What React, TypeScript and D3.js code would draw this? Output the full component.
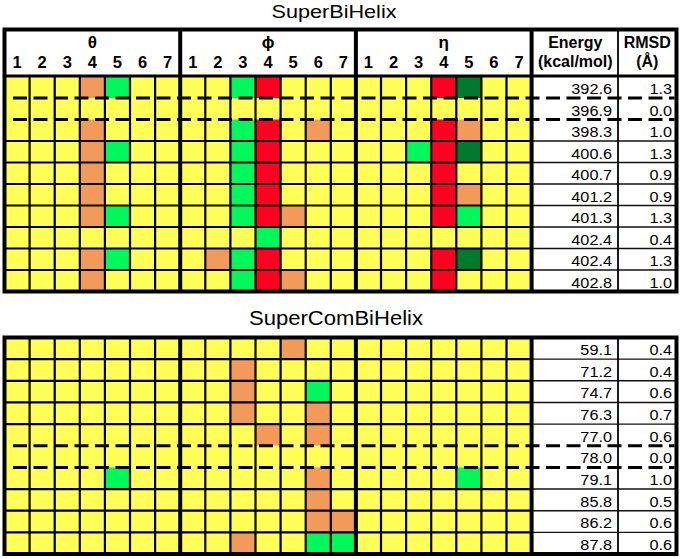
import React from "react";
import * as d3 from "d3";

const groups = ["θ", "ϕ", "η"];
const colLabels = ["1", "2", "3", "4", "5", "6", "7"];

// Cell states: Y yellow, O orange, G green, R red, D dark green
const superBiHelixCells = [
  "YYYOGYY" + "YYGRYYY" + "YYYRDYY",
  "YYYYYYY" + "YYYYYYY" + "YYYYYYY",
  "YYYOYYY" + "YYGRYOY" + "YYYROYY",
  "YYYOGYY" + "YYGRYYY" + "YYGRDYY",
  "YYYOYYY" + "YYGRYYY" + "YYYRYYY",
  "YYYOYYY" + "YYGRYYY" + "YYYROYY",
  "YYYOGYY" + "YYGROYY" + "YYYRGYY",
  "YYYYYYY" + "YYYGYYY" + "YYYYYYY",
  "YYYOGYY" + "YOGRYYY" + "YYYRDYY",
  "YYYOYYY" + "YYGROYY" + "YYYRYYY",
];
const superBiHelixEnergy = ["392.6", "396.9", "398.3", "400.6", "400.7", "401.2", "401.3", "402.4", "402.4", "402.8"];
const superBiHelixRmsd = ["1.3", "0.0", "1.0", "1.3", "0.9", "0.9", "1.3", "0.4", "1.3", "1.0"];
const superBiHelixDashed = [1, 2]; // dashed boundaries above these row indices

const superComCells = [
  "YYYYYYY" + "YYYYOYY" + "YYYYYYY",
  "YYYYYYY" + "YYOYYYY" + "YYYYYYY",
  "YYYYYYY" + "YYOYYGY" + "YYYYYYY",
  "YYYYYYY" + "YYOYYOY" + "YYYYYYY",
  "YYYYYYY" + "YYYOYOY" + "YYYYYYY",
  "YYYYYYY" + "YYYYYYY" + "YYYYYYY",
  "YYYYGYY" + "YYYYYOY" + "YYYYGYY",
  "YYYYYYY" + "YYYYYOY" + "YYYYYYY",
  "YYYYYYY" + "YYYYYOO" + "YYYYYYY",
  "YYYYYYY" + "YYOYYGG" + "YYYYYYY",
];
const superComEnergy = ["59.1", "71.2", "74.7", "76.3", "77.0", "78.0", "79.1", "85.8", "86.2", "87.8"];
const superComRmsd = ["0.4", "0.4", "0.6", "0.7", "0.6", "0.0", "1.0", "0.5", "0.6", "0.6"];
const superComDashed = [5, 6];

const palette: Record<string, string> = {
  Y: "#FFFF57",
  O: "#F29A5A",
  G: "#00F85A",
  R: "#FF0020",
  D: "#007A2C",
};

const FONT = "'Liberation Sans', Arial, Helvetica, sans-serif";
const W = 680;
const H = 559;
const left = 4.5;
const gridRight = 531.6;
const energyRight = 618;
const right = 676.5;
const numStretch = 1.07;

const nCols = groups.length * colLabels.length;
const x = d3
  .scaleBand<number>()
  .domain(d3.range(nCols))
  .range([left, gridRight])
  .paddingInner(0)
  .paddingOuter(0);

function Panel({
  cells,
  energy,
  rmsd,
  dashed,
  top,
  gridTop,
  bottom,
  header,
}: {
  cells: string[];
  energy: string[];
  rmsd: string[];
  dashed: number[];
  top: number;
  gridTop: number;
  bottom: number;
  header: boolean;
}) {
  const y = d3
    .scaleBand<number>()
    .domain(d3.range(cells.length))
    .range([gridTop, bottom])
    .paddingInner(0);
  const bw = x.bandwidth();
  const bh = y.bandwidth();
  const rowBoundaries = d3.range(1, cells.length);
  const colBoundaries = d3.range(1, nCols).filter((c) => c % 7 !== 0);
  const groupBoundaries = [7, 14, 21];
  return (
    <g>
      <rect x={left} y={top} width={right - left} height={bottom - top} fill="#fff" />
      {cells.map((row, r) =>
        row.split("").map((c, ci) => (
          <rect
            key={`${r}-${ci}`}
            x={x(ci)!}
            y={y(r)!}
            width={bw}
            height={bh}
            fill={palette[c]}
          />
        ))
      )}
      {rowBoundaries
        .filter((r) => !dashed.includes(r))
        .map((r) => (
          <g key={`h${r}`}>
            <line x1={left} x2={gridRight} y1={y(r)!} y2={y(r)!} stroke="#000" strokeWidth={2.2} />
            <line x1={gridRight} x2={right} y1={y(r)!} y2={y(r)!} stroke="#111" strokeWidth={1.4} />
          </g>
        ))}
      {colBoundaries.map((c) => (
        <line
          key={`v${c}`}
          x1={x(c)!}
          x2={x(c)!}
          y1={gridTop}
          y2={bottom}
          stroke="#000"
          strokeWidth={2.2}
        />
      ))}
      <line x1={energyRight} x2={energyRight} y1={top} y2={bottom} stroke="#000" strokeWidth={1.8} />
      {header && (
        <line x1={left} x2={right} y1={gridTop - 0.5} y2={gridTop - 0.5} stroke="#000" strokeWidth={3} />
      )}
      {groupBoundaries.map((g) => {
        const gx = g === nCols ? gridRight : x(g)!;
        return (
          <line key={`g${g}`} x1={gx} x2={gx} y1={top} y2={bottom} stroke="#000" strokeWidth={4} />
        );
      })}
      {dashed.map((r) => (
        <line
          key={`d${r}`}
          x1={13}
          x2={right - 2}
          y1={y(r)!}
          y2={y(r)!}
          stroke="#000"
          strokeWidth={3}
          strokeDasharray="14,6.5"
        />
      ))}
      {energy.map((e, r) => (
        <text
          key={`e${r}`}
          transform={`translate(${energyRight - 6},${y(r)! + bh - 4}) scale(${numStretch},1)`}
          textAnchor="end"
          fontFamily={FONT}
          fontSize={15.2}
          fill="#000"
        >
          {e}
        </text>
      ))}
      {rmsd.map((e, r) => (
        <text
          key={`r${r}`}
          transform={`translate(${right - 4.5},${y(r)! + bh - 4}) scale(${numStretch},1)`}
          textAnchor="end"
          fontFamily={FONT}
          fontSize={15.2}
          fill="#000"
        >
          {e}
        </text>
      ))}
      {header && (
        <g fontFamily={FONT} fontWeight="bold" fill="#000">
          {groups.map((gname, gi) => {
            const gx0 = x(gi * 7)!;
            const gx1 = gi * 7 + 7 === nCols ? gridRight : x(gi * 7 + 7)!;
            return (
              <text key={gname} x={(gx0 + gx1) / 2} y={top + 18} textAnchor="middle" fontSize={17}>
                {gname}
              </text>
            );
          })}
          {d3.range(nCols).map((c) => (
            <text
              key={`cl${c}`}
              x={x(c)! + bw / 2}
              y={top + 38.5}
              textAnchor="middle"
              fontSize={16.5}
            >
              {colLabels[c % 7]}
            </text>
          ))}
          <text x={(gridRight + energyRight) / 2 + 0.5} y={top + 18.5} textAnchor="middle" fontSize={16}>
            Energy
          </text>
          <text x={(gridRight + energyRight) / 2 + 0.5} y={top + 37} textAnchor="middle" fontSize={16}>
            (kcal/mol)
          </text>
          <text x={(energyRight + right) / 2} y={top + 18.5} textAnchor="middle" fontSize={16}>
            RMSD
          </text>
          <text x={(energyRight + right) / 2} y={top + 37} textAnchor="middle" fontSize={16}>
            (Å)
          </text>
        </g>
      )}
      <rect
        x={left}
        y={top}
        width={right - left}
        height={bottom - top}
        fill="none"
        stroke="#000"
        strokeWidth={4}
      />
    </g>
  );
}

export default function App() {
  return (
    <svg
      width={W}
      height={H}
      viewBox={`0 0 ${W} ${H}`}
      style={{ position: "fixed", left: 0, top: 0, background: "#fff" }}
    >
      <rect x={0} y={0} width={W} height={H} fill="#fff" />
      <text
        x={334}
        y={17.5}
        textAnchor="middle"
        fontFamily={FONT}
        fontSize={18.5}
        textLength={125}
        lengthAdjust="spacingAndGlyphs"
      >
        SuperBiHelix
      </text>
      <Panel
        cells={superBiHelixCells}
        energy={superBiHelixEnergy}
        rmsd={superBiHelixRmsd}
        dashed={superBiHelixDashed}
        top={29.5}
        gridTop={76.5}
        bottom={291.5}
        header={true}
      />
      <text
        x={336}
        y={325}
        textAnchor="middle"
        fontFamily={FONT}
        fontSize={19.5}
        textLength={174}
        lengthAdjust="spacingAndGlyphs"
      >
        SuperComBiHelix
      </text>
      <Panel
        cells={superComCells}
        energy={superComEnergy}
        rmsd={superComRmsd}
        dashed={superComDashed}
        top={337.5}
        gridTop={337.5}
        bottom={554}
        header={false}
      />
    </svg>
  );
}
